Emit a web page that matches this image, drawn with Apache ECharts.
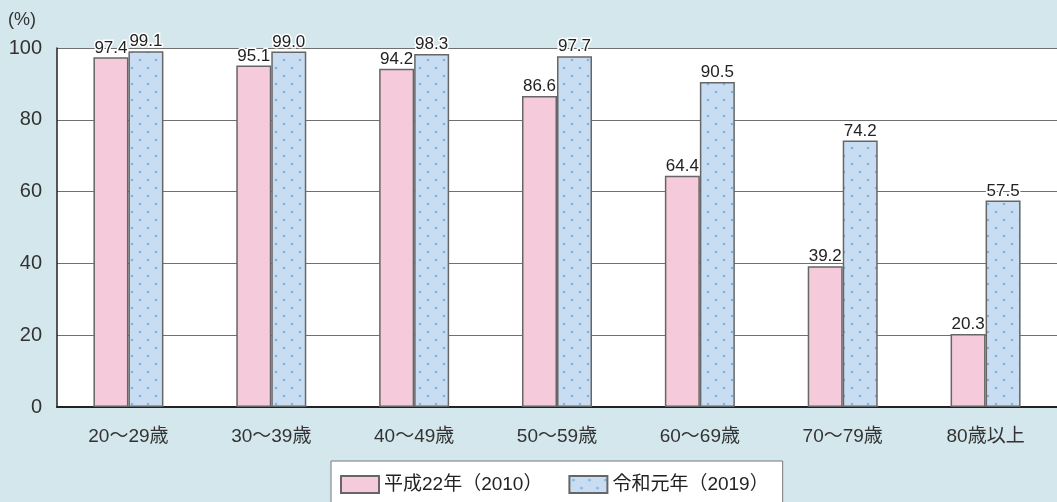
<!DOCTYPE html>
<html>
<head>
<meta charset="utf-8">
<script src="https://cdn.jsdelivr.net/npm/echarts@6/dist/echarts.min.js"></script>
<style>
    html, body { margin: 0; padding: 0; background: #d3e7ec; }
    #chart { width: 1057px; height: 502px; }
</style>
</head>
<body>
<div id="chart"></div>
<script>
    var categories = ['20～29歳', '30～39歳', '40～49歳', '50～59歳', '60～69歳', '70～79歳', '80歳以上'];
    var seriesNames = ['平成22年（2010）', '令和元年（2019）'];
    var values2010 = [97.4, 95.1, 94.2, 86.6, 64.4, 39.2, 20.3];
    var values2019 = [99.1, 99.0, 98.3, 97.7, 90.5, 74.2, 57.5];
    var yTicks = [0, 20, 40, 60, 80, 100];

    var FONT = '"Liberation Sans", "Noto Sans CJK JP", sans-serif';

    // 水玉模様
    function dotPattern() {
        var c = document.createElement('canvas');
        c.width = 16;
        c.height = 16;
        var ctx = c.getContext('2d');
        ctx.fillStyle = '#c8ddf1';
        ctx.fillRect(0, 0, 16, 16);
        ctx.fillStyle = '#7fb2e5';
        [[4, 4], [12, 12]].forEach(function (p) {
            ctx.beginPath();
            ctx.arc(p[0], p[1], 1.3, 0, Math.PI * 2);
            ctx.fill();
        });
        return c;
    }

    var myChart = echarts.init(document.getElementById('chart'));
    var labelStyle = {
        show: true,
        position: 'top',
        distance: 1,
        color: '#222',
        fontSize: 17,
        fontFamily: FONT,
        textBorderColor: '#fff',
        textBorderWidth: 3,
        formatter: function (p) { return p.value.toFixed(1); }
    };
    var option = {
        backgroundColor: '#d3e7ec',
        animation: false,
        textStyle: { fontFamily: FONT },
        graphic: [{
            type: 'text',
            left: 8,
            top: 11,
            style: { text: '(%)', fontSize: 18, fill: '#333', fontFamily: FONT }
        }],
        grid: {
            left: 57,
            right: 0,
            top: 48,
            bottom: 95,
            show: true,
            backgroundColor: '#fff',
            borderWidth: 0
        },
        legend: {
            left: 331,
            top: 461,
            icon: 'rect',
            itemWidth: 38,
            itemHeight: 17,
            itemGap: 26,
            padding: [14, 14, 14, 9],
            backgroundColor: '#fff',
            borderColor: '#777',
            borderWidth: 1,
            textStyle: { fontSize: 19, color: '#222', fontFamily: FONT },
            data: seriesNames
        },
        xAxis: {
            type: 'category',
            data: categories,
            axisLine: { lineStyle: { color: '#222', width: 2 } },
            axisTick: { show: false },
            axisLabel: {
                color: '#333',
                fontSize: 19,
                margin: 20,
                fontFamily: FONT
            }
        },
        yAxis: {
            type: 'value',
            min: 0,
            max: 100,
            interval: 20,
            axisLine: { show: true, lineStyle: { color: '#222', width: 1.5 } },
            axisTick: { show: false },
            splitLine: { lineStyle: { color: '#707070', width: 1 } },
            axisLabel: {
                color: '#333',
                fontSize: 20,
                margin: 15,
                formatter: function (v) { return yTicks.indexOf(v) >= 0 ? String(v) : ''; }
            }
        },
        series: [{
            name: seriesNames[0],
            type: 'bar',
            barWidth: 35,
            barGap: '0%',
            data: values2010,
            itemStyle: { color: '#f5cadb', borderColor: '#666', borderWidth: 1.5 },
            label: labelStyle
        }, {
            name: seriesNames[1],
            type: 'bar',
            barWidth: 35,
            data: values2019,
            itemStyle: {
                color: { image: dotPattern(), repeat: 'repeat' },
                borderColor: '#666',
                borderWidth: 1.5
            },
            label: labelStyle
        }]
    };
    myChart.setOption(option);
</script>
</body>
</html>
